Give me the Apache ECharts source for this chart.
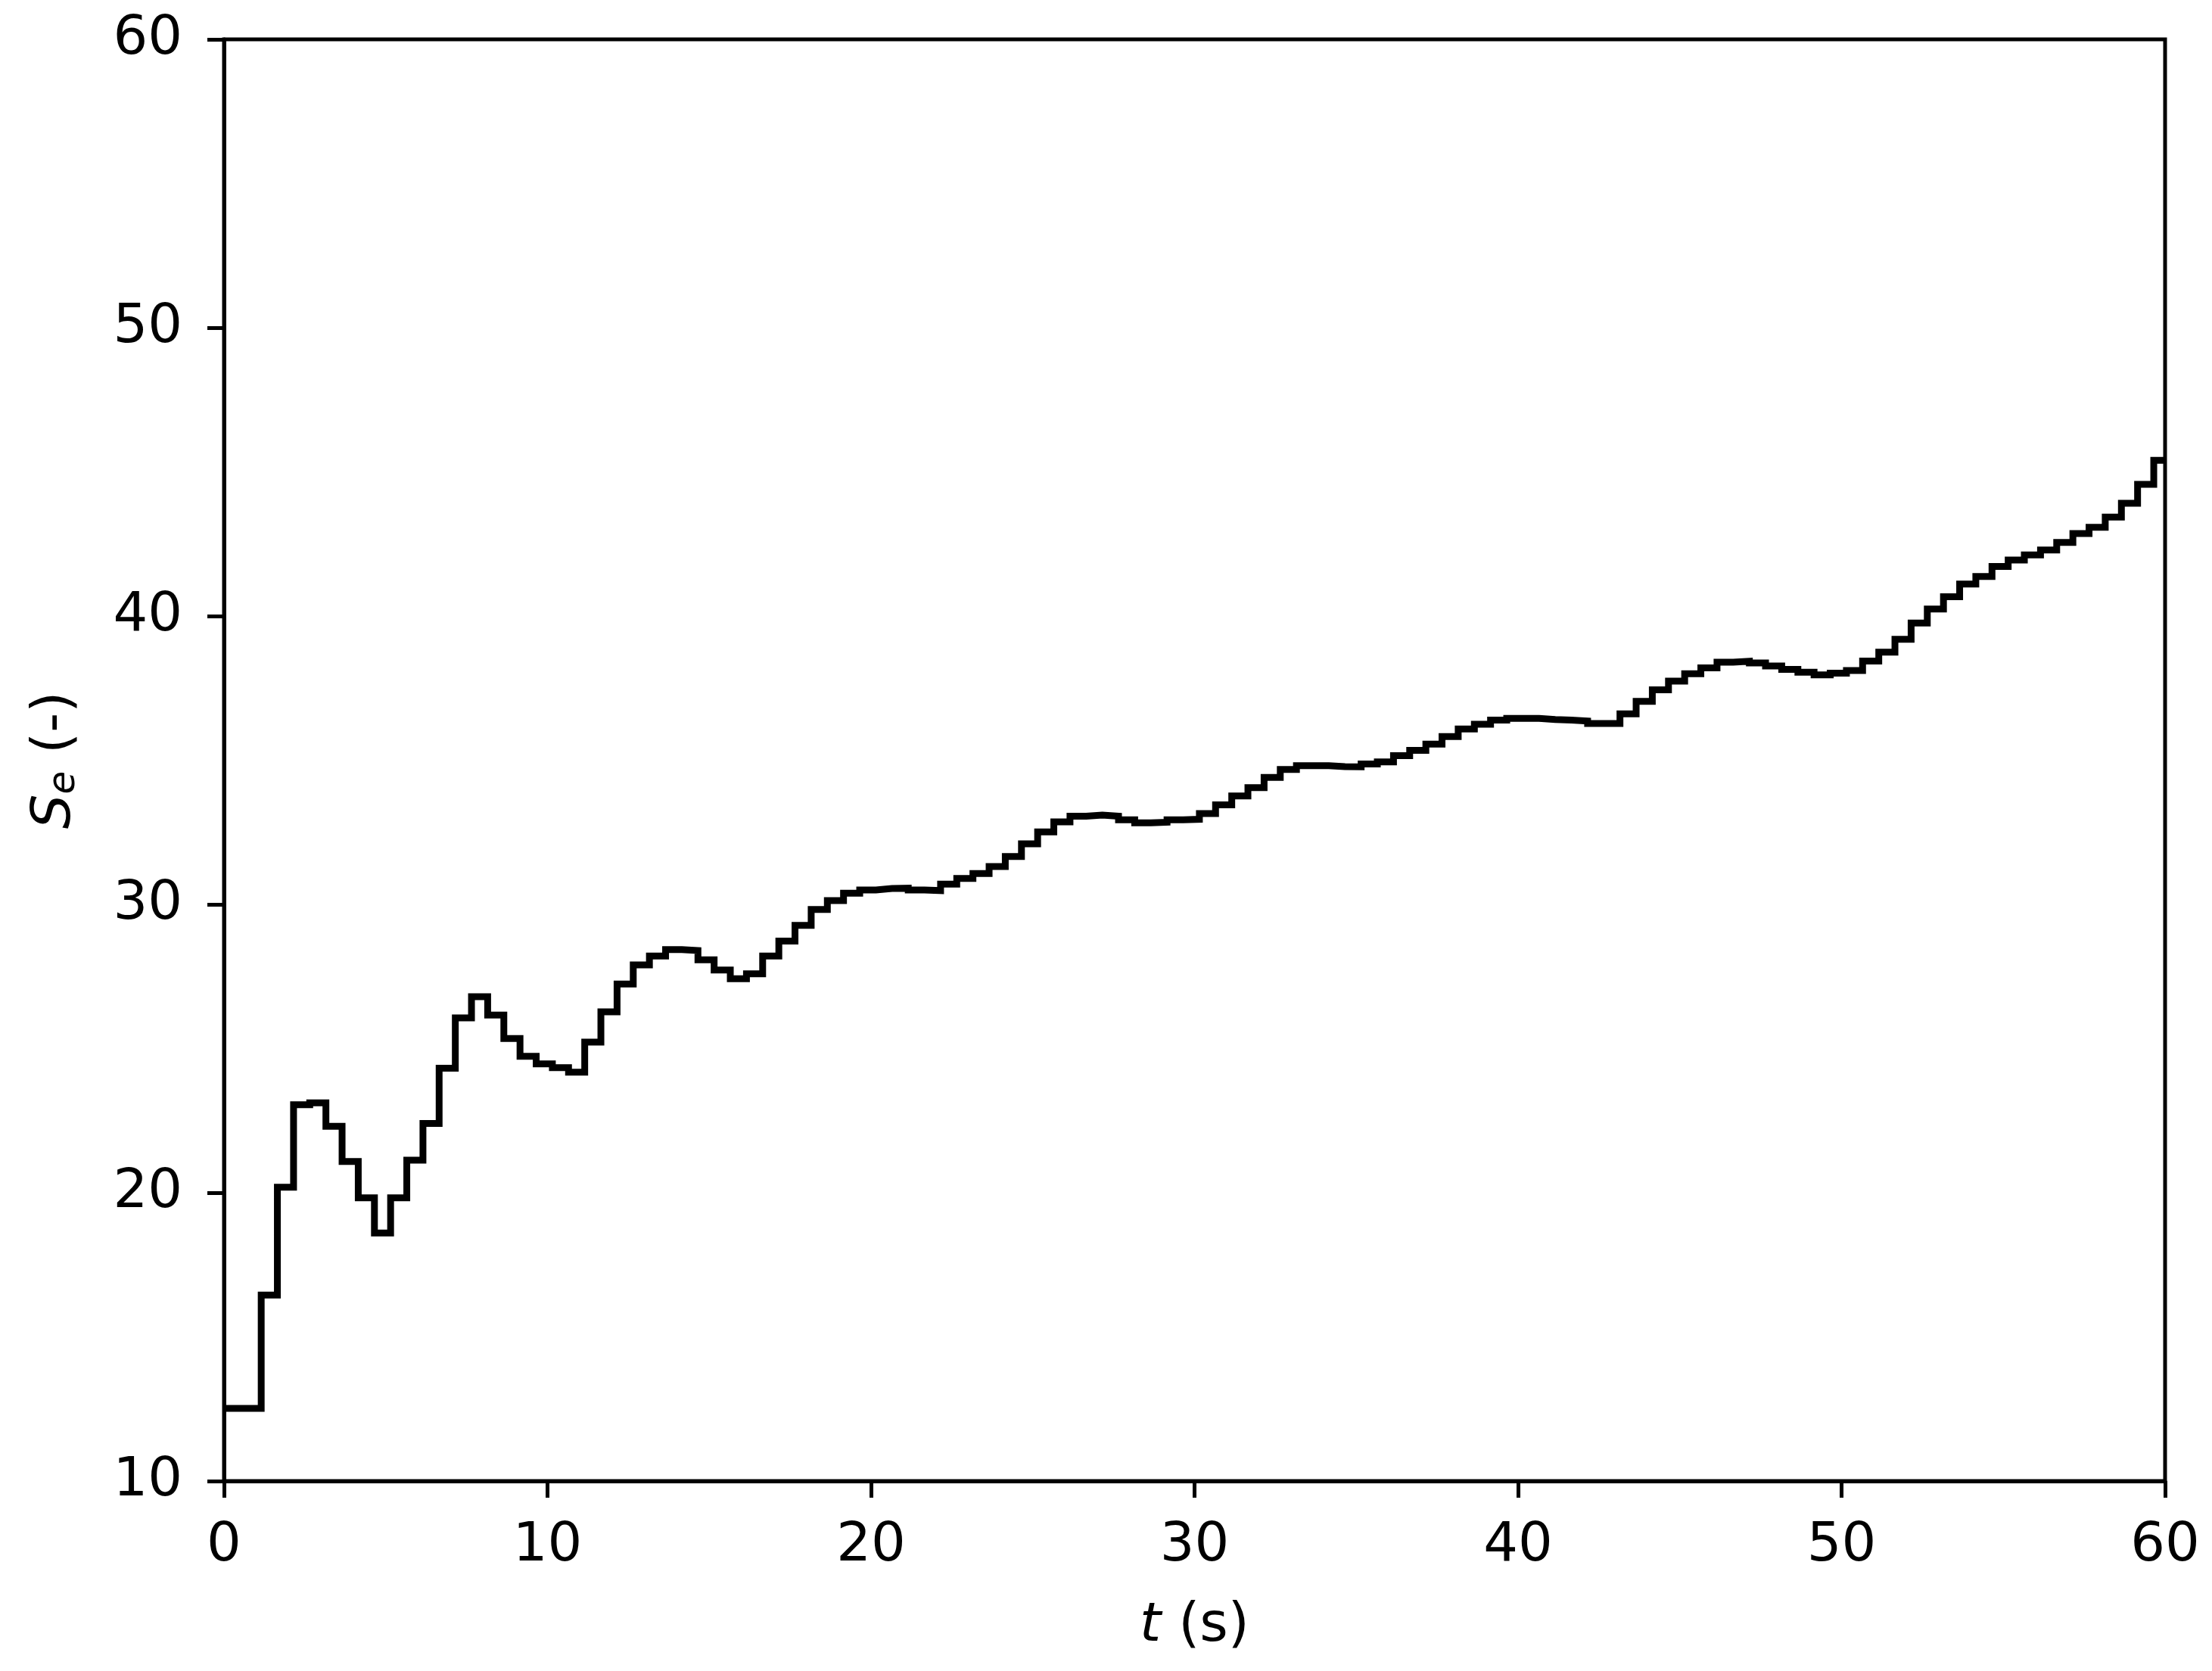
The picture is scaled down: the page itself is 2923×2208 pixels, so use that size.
<!DOCTYPE html>
<html>
<head>
<meta charset="utf-8">
<script src="https://cdn.jsdelivr.net/npm/echarts@6/dist/echarts.min.js"></script>
<style>
html,body{margin:0;padding:0;background:#fff;}
#chart{width:2923px;height:2208px;}
</style>
</head>
<body>
<div id="chart"></div>
<script>
// Time (s) at which each level starts (step holds until next time)
const times = [0, 1.15, 1.65, 2.15, 2.65, 3.15, 3.65, 4.15, 4.65, 5.15, 5.65, 6.15, 6.65, 7.15, 7.65, 8.15, 8.65, 9.15, 9.65, 10.15, 10.65,
  11.15, 11.65, 12.15, 12.65, 13.15, 13.65, 14.15, 14.65, 15.15, 15.65, 16.15, 16.65, 17.15, 17.65, 18.15, 18.65, 19.15, 19.65, 20.15, 20.65,
  21.15, 21.65, 22.15, 22.65, 23.15, 23.65, 24.15, 24.65, 25.15, 25.65, 26.15, 26.65, 27.15, 27.65, 28.15, 28.65, 29.15, 29.65, 30.15, 30.65,
  31.15, 31.65, 32.15, 32.65, 33.15, 33.65, 34.15, 34.65, 35.15, 35.65, 36.15, 36.65, 37.15, 37.65, 38.15, 38.65, 39.15, 39.65, 40.15, 40.65,
  41.15, 41.65, 42.15, 42.65, 43.15, 43.65, 44.15, 44.65, 45.15, 45.65, 46.15, 46.65, 47.15, 47.65, 48.15, 48.65, 49.15, 49.65, 50.15, 50.65,
  51.15, 51.65, 52.15, 52.65, 53.15, 53.65, 54.15, 54.65, 55.15, 55.65, 56.15, 56.65, 57.15, 57.65, 58.15, 58.65, 59.15, 59.65, 60];

// S_e values (level held from the matching time)
const seValues = [12.52, 16.45, 20.19, 23.05, 23.12, 22.30, 21.08, 19.82, 18.60, 19.82, 21.13,
  22.40, 24.32, 26.06, 26.80, 26.16, 25.35, 24.73, 24.47, 24.34, 24.18,
  25.22, 26.27, 27.24, 27.90, 28.21, 28.43, 28.40, 28.08, 27.72, 27.42,
  27.59, 28.21, 28.73, 29.27, 29.82, 30.13, 30.39, 30.50, 30.55, 30.56,
  30.50, 30.48, 30.70, 30.90, 31.07, 31.31, 31.66, 32.10, 32.51, 32.86,
  33.06, 33.10, 33.06, 32.93, 32.83, 32.85, 32.93, 32.95, 33.15, 33.45,
  33.76, 34.05, 34.40, 34.68, 34.81, 34.81, 34.78, 34.77, 34.87, 34.94,
  35.16, 35.34, 35.56, 35.82, 36.08, 36.25, 36.39, 36.45, 36.45, 36.41,
  36.39, 36.36, 36.27, 36.27, 36.61, 37.04, 37.44, 37.74, 38.00, 38.20,
  38.40, 38.43, 38.37, 38.27, 38.15, 38.05, 37.96, 38.02, 38.11, 38.44,
  38.75, 39.19, 39.76, 40.24, 40.67, 41.11, 41.37, 41.72, 41.94, 42.12,
  42.29, 42.55, 42.86, 43.08, 43.43, 43.91, 44.57, 45.40, 45.40];

const xTicks = [0, 10, 20, 30, 40, 50, 60];
const yTicks = [10, 20, 30, 40, 50, 60];

const FONT = 'DejaVu Sans';
const FS = 72;

const data = times.map((t, i) => [t, seValues[i]]);

const chart = echarts.init(document.getElementById('chart'), null, {renderer: 'canvas'});
chart.setOption({
  animation: false,
  backgroundColor: '#fff',
  grid: {
    left: 296, right: 62, top: 52, bottom: 251,
    show: true, borderColor: '#000', borderWidth: 5, backgroundColor: 'transparent',
    containLabel: false
  },
  xAxis: {
    type: 'value',
    min: xTicks[0], max: xTicks[xTicks.length - 1], interval: 10,
    name: '{it|t} (s)',
    nameLocation: 'middle',
    nameGap: 156,
    nameTextStyle: {
      fontFamily: FONT, fontSize: FS, color: '#000',
      rich: { it: { fontFamily: FONT, fontSize: FS, fontStyle: 'italic', color: '#000' } }
    },
    axisLine: { show: true, onZero: false, lineStyle: { color: '#000', width: 5 } },
    axisTick: { show: true, inside: false, length: 22, lineStyle: { color: '#000', width: 5 } },
    axisLabel: { show: true, margin: 50, fontFamily: FONT, fontSize: FS, color: '#000' },
    splitLine: { show: false }
  },
  yAxis: {
    type: 'value',
    min: yTicks[0], max: yTicks[yTicks.length - 1], interval: 10,
    name: '{it|S}{sub|e} (-)',
    nameLocation: 'middle',
    nameGap: 186,
    nameTextStyle: {
      fontFamily: FONT, fontSize: FS, color: '#000',
      rich: {
        it: { fontFamily: FONT, fontSize: FS, fontStyle: 'italic', color: '#000' },
        sub: { fontFamily: FONT, fontSize: 50, fontStyle: 'italic', color: '#000', padding: [24, 0, 0, 0] }
      }
    },
    axisLine: { show: true, onZero: false, lineStyle: { color: '#000', width: 5 } },
    axisTick: { show: true, inside: false, length: 22, lineStyle: { color: '#000', width: 5 } },
    axisLabel: { show: true, margin: 55, fontFamily: FONT, fontSize: FS, color: '#000' },
    splitLine: { show: false }
  },
  series: [{
    type: 'line',
    step: 'end',
    data: data,
    showSymbol: false,
    symbol: 'none',
    clip: true,
    lineStyle: { color: '#000', width: 9, join: 'miter', cap: 'butt' }
  }]
});
</script>
</body>
</html>
